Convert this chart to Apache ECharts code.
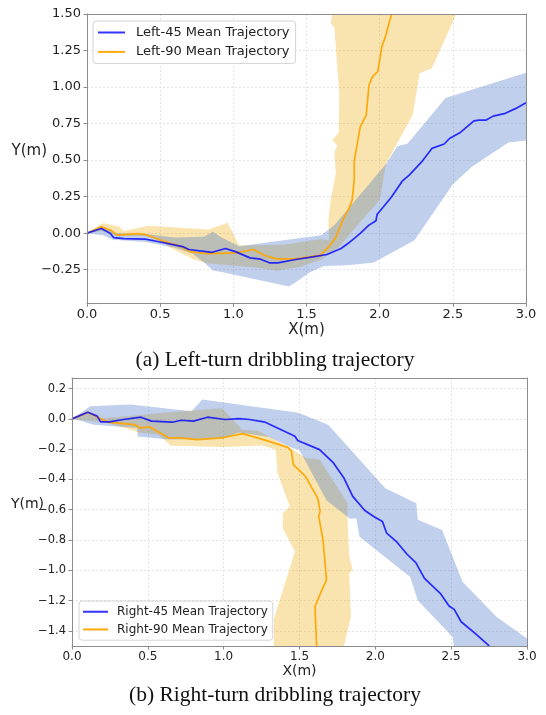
<!DOCTYPE html>
<html>
<head>
<meta charset="utf-8">
<script src="https://cdn.jsdelivr.net/npm/echarts@6/dist/echarts.min.js"></script>
<style>
html,body{margin:0;padding:0;background:#fff;}
#chart{width:546px;height:715px;}
</style>
</head>
<body>
<div id="chart"></div>
<script>
// ---------- data ----------
const xTicks = [0, 0.5, 1.0, 1.5, 2.0, 2.5, 3.0];
const topYTicks = [-0.25, 0, 0.25, 0.5, 0.75, 1.0, 1.25, 1.5];
const botYTicks = [-1.4, -1.2, -1.0, -0.8, -0.6, -0.4, -0.2, 0, 0.2];

const left45Mean = [[0,0],[0.098,0.032],[0.158,0.0],[0.182,-0.03],[0.253,-0.037],[0.397,-0.041],[0.492,-0.059],[0.588,-0.078],[0.66,-0.094],[0.696,-0.112],[0.827,-0.128],[0.85,-0.132],[0.947,-0.105],[1.018,-0.128],[1.114,-0.169],[1.186,-0.178],[1.246,-0.203],[1.305,-0.203],[1.425,-0.18],[1.544,-0.162],[1.64,-0.146],[1.736,-0.105],[1.783,-0.071],[1.831,-0.032],[1.867,-0.002],[1.927,0.055],[1.975,0.085],[1.982,0.128],[2.022,0.176],[2.082,0.249],[2.154,0.356],[2.202,0.397],[2.285,0.486],[2.357,0.58],[2.441,0.61],[2.477,0.648],[2.548,0.687],[2.644,0.769],[2.68,0.774],[2.728,0.774],[2.776,0.801],[2.859,0.82],[2.931,0.854],[3.0,0.893]];

const left90Mean = [[0,0],[0.098,0.043],[0.17,0.016],[0.206,-0.014],[0.349,-0.003],[0.397,-0.009],[0.516,-0.053],[0.636,-0.089],[0.708,-0.128],[0.827,-0.14],[1.018,-0.135],[1.138,-0.112],[1.21,-0.151],[1.293,-0.176],[1.425,-0.176],[1.592,-0.151],[1.652,-0.094],[1.7,-0.03],[1.748,0.089],[1.795,0.18],[1.812,0.226],[1.826,0.363],[1.826,0.489],[1.843,0.591],[1.867,0.728],[1.908,0.808],[1.927,1.014],[1.951,1.071],[1.987,1.105],[2.015,1.276],[2.039,1.345],[2.07,1.459],[2.082,1.5]];

const left45Band = [[0,0],[0.1,0.045],[0.2,0.0],[0.4,-0.005],[0.6,-0.03],[0.8,-0.025],[0.86,0.01],[0.92,-0.03],[1.04,-0.09],[1.6,-0.015],[1.69,0.055],[2.046,0.477],[2.12,0.595],[2.19,0.612],[2.45,0.925],[3.1,1.13],[3.1,0.66],[3.0,0.635],[2.88,0.62],[2.63,0.455],[2.5,0.335],[2.238,-0.048],[1.96,-0.2],[1.78,-0.22],[1.62,-0.225],[1.52,-0.27],[1.45,-0.32],[1.38,-0.365],[0.92,-0.265],[0.86,-0.255],[0.8,-0.2],[0.72,-0.14],[0.6,-0.1],[0.4,-0.06],[0.18,-0.045],[0.11,-0.015]];

const left90Band = [[0,0],[0.11,0.07],[0.22,0.045],[0.25,0.015],[0.42,0.05],[0.83,0.025],[0.96,0.072],[1.04,-0.085],[1.35,-0.08],[1.6,-0.04],[1.655,-0.05],[1.65,0.09],[1.665,0.225],[1.7,0.41],[1.69,0.55],[1.71,0.6],[1.676,0.637],[1.72,0.685],[1.724,0.957],[1.69,1.41],[1.665,1.436],[1.676,1.5],[1.68,1.7],[2.6,1.7],[2.524,1.5],[2.357,1.128],[2.273,1.094],[2.226,0.808],[2.044,0.477],[2.0,0.225],[1.906,0.122],[1.72,-0.096],[1.608,-0.177],[1.45,-0.234],[1.341,-0.249],[1.3,-0.257],[1.15,-0.235],[0.816,-0.206],[0.724,-0.177],[0.563,-0.096],[0.494,-0.04],[0.4,-0.02],[0.2,-0.02],[0.1,0.015]];

const right45Mean = [[0,0],[0.104,0.044],[0.166,0.018],[0.189,-0.02],[0.247,-0.02],[0.339,-0.004],[0.455,0.011],[0.524,-0.015],[0.662,-0.022],[0.72,-0.009],[0.801,-0.015],[0.893,0.011],[1.009,-0.004],[1.101,0.002],[1.17,-0.004],[1.274,-0.022],[1.355,-0.06],[1.47,-0.115],[1.488,-0.143],[1.632,-0.203],[1.724,-0.291],[1.793,-0.391],[1.851,-0.512],[1.931,-0.605],[1.989,-0.645],[2.047,-0.678],[2.075,-0.755],[2.139,-0.81],[2.209,-0.894],[2.267,-0.949],[2.324,-1.053],[2.428,-1.152],[2.486,-1.236],[2.52,-1.258],[2.566,-1.34],[2.658,-1.417],[2.751,-1.499]];

const right90Mean = [[0,0],[0.104,0.044],[0.178,0.007],[0.235,-0.022],[0.408,-0.038],[0.455,-0.06],[0.512,-0.053],[0.639,-0.126],[0.709,-0.126],[0.824,-0.137],[0.985,-0.126],[1.124,-0.097],[1.262,-0.137],[1.424,-0.188],[1.447,-0.214],[1.459,-0.302],[1.539,-0.38],[1.62,-0.523],[1.636,-0.611],[1.627,-0.645],[1.655,-0.799],[1.678,-1.064],[1.643,-1.141],[1.602,-1.241],[1.613,-1.5]];

const right45Band = [[0,0],[0.12,0.084],[0.385,0.095],[0.789,0.051],[0.859,0.128],[1.493,0.04],[1.689,-0.038],[2.066,-0.458],[2.27,-0.557],[2.28,-0.667],[2.44,-0.734],[2.575,-1.076],[2.8,-1.308],[3.0,-1.45],[3.1,-1.52],[3.1,-1.6],[2.53,-1.6],[2.51,-1.44],[2.28,-1.2],[2.23,-1.045],[1.896,-0.778],[1.874,-0.656],[1.833,-0.659],[1.678,-0.538],[1.5,-0.206],[1.45,-0.19],[1.3,-0.12],[1.1,-0.09],[1.0,-0.13],[0.64,-0.137],[0.433,-0.117],[0.43,-0.06],[0.143,-0.038],[0.05,-0.01]];

const right90Band = [[0,0],[0.1,0.045],[0.19,0.004],[0.4,0.02],[0.6,0.04],[0.99,0.071],[1.12,-0.07],[1.23,-0.08],[1.42,-0.18],[1.54,-0.258],[1.632,-0.269],[1.816,-0.556],[1.816,-0.656],[1.828,-0.909],[1.851,-0.998],[1.828,-1.02],[1.839,-1.307],[1.793,-1.5],[1.785,-1.6],[1.33,-1.6],[1.332,-1.318],[1.47,-0.876],[1.39,-0.722],[1.39,-0.623],[1.436,-0.578],[1.355,-0.358],[1.343,-0.203],[1.25,-0.175],[0.997,-0.185],[0.651,-0.177],[0.57,-0.104],[0.455,-0.093],[0.235,-0.026]];

// ---------- styling ----------
const FONT = 'DejaVu Sans';
const AXC = '#8c8c8c';
const BLUE = 'rgba(0,0,255,0.8)';
const ORANGE = 'rgba(255,165,0,0.95)';
const BLUE_BAND = 'rgba(60,108,196,0.33)';
const YELLOW_BAND = 'rgba(235,170,10,0.32)';

function fmt(v, d) { return (v < 0 ? '\u2212' : '') + Math.abs(v).toFixed(d); }

function mainX(gi, fs, gap) {
  return {
    type: 'value', gridIndex: gi, min: 0, max: 3, interval: 0.5, position: 'bottom', z: 0,
    axisLine: {show: false, onZero: false},
    axisTick: {show: true, length: 3.5, lineStyle: {color: AXC}},
    axisLabel: {fontFamily: FONT, fontSize: fs, color: '#222', margin: 5, formatter: v => fmt(v, 1)},
    splitLine: {show: true, lineStyle: {color: '#dedede', type: [2, 2], width: 0.8}},
    name: 'X(m)', nameLocation: 'middle', nameGap: gap,
    nameTextStyle: {fontFamily: FONT, fontSize: fs + 2, color: '#222'}
  };
}
function borderX(gi, pos) {
  return {type: 'value', gridIndex: gi, min: 0, max: 3, position: pos, z: 10,
    axisLine: {show: true, onZero: false, lineStyle: {color: AXC, width: 1}},
    axisTick: {show: false}, axisLabel: {show: false}, splitLine: {show: false}};
}
function mainY(gi, min, max, ticks, d, fs) {
  return {
    type: 'value', gridIndex: gi, min: min, max: max, position: 'left', z: 0,
    axisLine: {show: false, onZero: false},
    axisTick: {show: true, length: 3.5, lineStyle: {color: AXC}, customValues: ticks},
    axisLabel: {fontFamily: FONT, fontSize: fs, color: '#222', margin: 6, customValues: ticks, formatter: v => fmt(v, d)},
    splitLine: {show: true, lineStyle: {color: '#dedede', type: [2, 2], width: 0.8}}
  };
}
function borderY(gi, min, max, pos) {
  return {type: 'value', gridIndex: gi, min: min, max: max, position: pos, z: 10,
    axisLine: {show: true, onZero: false, lineStyle: {color: AXC, width: 1}},
    axisTick: {show: false}, axisLabel: {show: false}, splitLine: {show: false}};
}
function band(name, pts, color, xi, yi) {
  return {
    type: 'custom', name: name, xAxisIndex: xi, yAxisIndex: yi, data: pts, clip: true, silent: true, z: 2,
    encode: {x: 0, y: 1},
    renderItem: function (params, api) {
      if (params.dataIndex !== 0) return null;
      return {type: 'polygon', shape: {points: pts.map(p => api.coord(p))}, style: {fill: color}};
    }
  };
}
function line(name, pts, color, xi, yi) {
  return {type: 'line', name: name, xAxisIndex: xi, yAxisIndex: yi, data: pts, showSymbol: false, symbol: 'none',
    clip: true, z: 3, color: color, lineStyle: {color: color, width: 1.7}, silent: true};
}
function legend(names, left, top, fs, lh, gap, iw, pad, tpad) {
  return {
    data: names, orient: 'vertical', left: left, top: top, icon: 'rect', itemWidth: iw, itemHeight: 2, itemGap: gap,
    padding: pad, backgroundColor: 'rgba(255,255,255,0.85)', borderColor: '#d4d4d4', borderWidth: 1, borderRadius: 3,
    selectedMode: false, z: 12,
    textStyle: {fontFamily: FONT, fontSize: fs, color: '#222', lineHeight: lh, padding: [0, 0, 0, tpad]}
  };
}

const chart = echarts.init(document.getElementById('chart'), null, {renderer: 'canvas'});
chart.setOption({
  animation: false,
  backgroundColor: '#fff',
  grid: [
    {left: 87, right: 20, top: 14, bottom: 411.7},
    {left: 72, right: 19, top: 378, bottom: 69}
  ],
  xAxis: [mainX(0, 13, 16), borderX(0, 'top'), borderX(0, 'bottom'),
          mainX(1, 12, 13), borderX(1, 'top'), borderX(1, 'bottom')],
  yAxis: [
    mainY(0, -0.48, 1.5, topYTicks, 2, 13), borderY(0, -0.48, 1.5, 'right'), borderY(0, -0.48, 1.5, 'left'),
    mainY(1, -1.5, 0.27, botYTicks, 1, 11.5), borderY(1, -1.5, 0.27, 'right'), borderY(1, -1.5, 0.27, 'left')
  ],
  legend: [
    legend(['Left-45 Mean Trajectory', 'Left-90 Mean Trajectory'], 93, 21, 13, 15, 4.4, 27, [4, 6, 4, 5], 6),
    legend(['Right-45 Mean Trajectory', 'Right-90 Mean Trajectory'], 79, 601, 12, 13.5, 4.2, 25, [4, 5, 4, 4], 4)
  ],
  series: [
    band('L90 band', left90Band, YELLOW_BAND, 0, 0),
    line('Left-90 Mean Trajectory', left90Mean, ORANGE, 0, 0),
    band('L45 band', left45Band, BLUE_BAND, 0, 0),
    line('Left-45 Mean Trajectory', left45Mean, BLUE, 0, 0),
    band('R90 band', right90Band, YELLOW_BAND, 3, 3),
    line('Right-90 Mean Trajectory', right90Mean, ORANGE, 3, 3),
    band('R45 band', right45Band, BLUE_BAND, 3, 3),
    line('Right-45 Mean Trajectory', right45Mean, BLUE, 3, 3)
  ],
  graphic: [
    {type: 'text', x: 47, y: 151, style: {text: 'Y(m)', font: '15px "DejaVu Sans"', fill: '#222', textAlign: 'right', textVerticalAlign: 'middle'}},
    {type: 'text', x: 44, y: 504, style: {text: 'Y(m)', font: '14px "DejaVu Sans"', fill: '#222', textAlign: 'right', textVerticalAlign: 'middle'}},
    {type: 'text', x: 275, y: 360, style: {text: '(a) Left-turn dribbling trajectory', font: '21.5px "Liberation Serif"', fill: '#111', textAlign: 'center', textVerticalAlign: 'middle'}},
    {type: 'text', x: 275, y: 695, style: {text: '(b) Right-turn dribbling trajectory', font: '21.5px "Liberation Serif"', fill: '#111', textAlign: 'center', textVerticalAlign: 'middle'}}
  ]
});
</script>
</body>
</html>
